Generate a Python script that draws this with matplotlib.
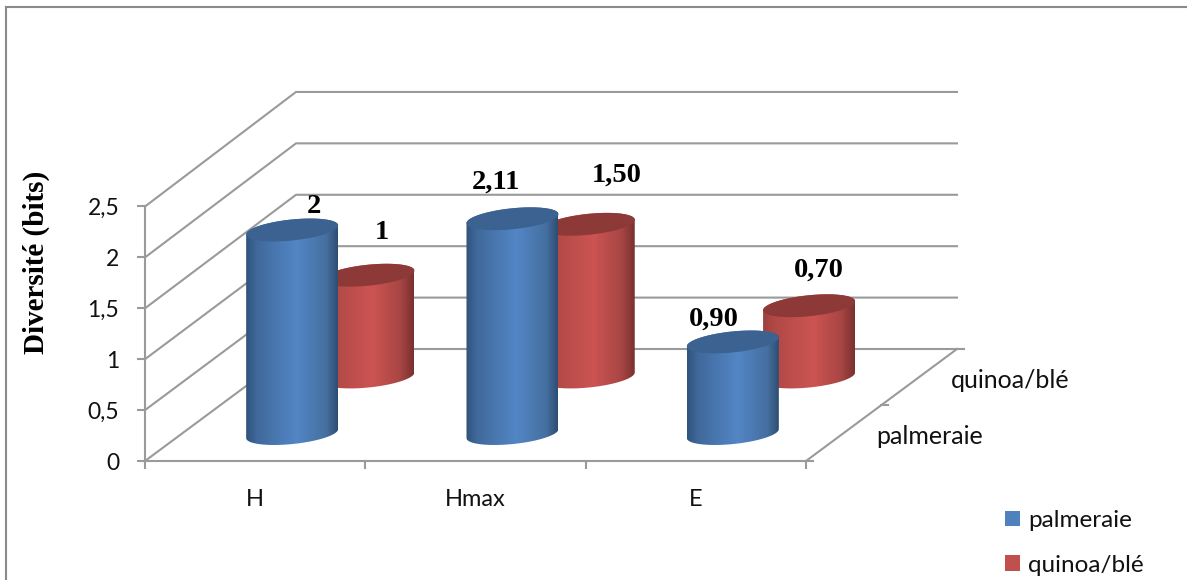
import numpy as np
import matplotlib
matplotlib.use("Agg")
import matplotlib.pyplot as plt
from matplotlib.colors import LinearSegmentedColormap
from matplotlib.lines import Line2D
from matplotlib.patches import Patch, Polygon
from matplotlib.path import Path

# Diversity indices per site
categories = ["H", "Hmax", "E"]
palmeraie = [2, 2.11, 0.90]
quinoa_ble = [1, 1.50, 0.70]
palmeraie_labels = ["2", "2,11", "0,90"]
quinoa_ble_labels = ["1", "1,50", "0,70"]
series_names = ["palmeraie", "quinoa/blé"]
value_ticks = [0, 0.5, 1, 1.5, 2, 2.5]
value_tick_labels = ["0", "0,5", "1", "1,5", "2", "2,5"]

W, H = 1187, 580
LEFT, RIGHT, FLOOR, TOP = 145, 806, 461, 206.5
DEPTH_DX, DEPTH_DY = 151, 112
GRID = "#9a9a9a"
LABEL_FONT = "Lato"
VALUE_FONT = "Liberation Serif"

fig = plt.figure(figsize=(W / 100, H / 100), dpi=100)
ax = fig.add_axes([LEFT / W, 1 - FLOOR / H, (RIGHT - LEFT) / W, (FLOOR - TOP) / H])
ax.set_xlim(0, 3)
ax.set_ylim(0, 2.5)
ax.patch.set_visible(False)
x_px = (RIGHT - LEFT) / 3
y_px = (FLOOR - TOP) / 2.5


def project(x, v, depth):
    """Oblique projection of (category, value, depth) onto the front plane."""
    return (x + depth * DEPTH_DX / x_px,
            v * (1 + 0.01 * depth) + depth * DEPTH_DY / y_px)


# Walls and floor
for v in value_ticks:
    pts = [project(0, v, 0), project(0, v, 1), project(3, v, 1)]
    ax.plot(*zip(*pts), color=GRID, lw=1.5, clip_on=False, zorder=1,
            solid_joinstyle="miter")
ax.plot(*zip(project(3, 0, 0), project(3, 0, 1)), color=GRID, lw=1.5,
        clip_on=False, zorder=1)
for d in (0, 0.5, 1):
    ax.plot(*zip(project(3, 0, d), project(3 + 7 / x_px, 0, d)), color=GRID,
            lw=1.5, clip_on=False, zorder=1)

for side in ("top", "right"):
    ax.spines[side].set_visible(False)
for side in ("left", "bottom"):
    ax.spines[side].set_color(GRID)
    ax.spines[side].set_linewidth(1.5)

ax.set_yticks(value_ticks, value_tick_labels, fontfamily=LABEL_FONT, fontsize=16.5,
              va="center_baseline")
ax.set_xticks([0, 1, 2, 3], [])
ax.set_xticks([0.5, 1.5, 2.5], categories, minor=True, fontfamily=LABEL_FONT,
              fontsize=17)
ax.tick_params(axis="y", length=5.5, width=1.5, color=GRID, pad=13, labelcolor="#111111")
ax.tick_params(axis="x", which="major", length=5.5, width=1.5, color=GRID)
ax.tick_params(axis="x", which="minor", length=0, pad=20, labelcolor="#111111")
ax.set_ylabel("Diversité (bits)", fontfamily=VALUE_FONT, fontweight="bold",
              fontsize=21, color="black", va="center")
ax.yaxis.set_label_coords((36 - LEFT) / (RIGHT - LEFT), (FLOOR - 262) / (FLOOR - TOP))

# Shading of the cylinders
blue_cmap = LinearSegmentedColormap.from_list(
    "blue_body", [(0, "#30537b"), (0.12, "#40699b"), (0.55, "#5386c6"),
                  (0.88, "#446f9f"), (1, "#2e4d72")])
red_cmap = LinearSegmentedColormap.from_list(
    "red_body", [(0, "#9c403e"), (0.12, "#b04946"), (0.55, "#cc5452"),
                 (0.85, "#a84644"), (1, "#7a302f")])

RADIUS_X, RADIUS_Y, TILT = 46 / x_px, 10.5 / y_px, 4.5 / y_px


def ellipse(cx, cy, t):
    return np.column_stack([cx + RADIUS_X * np.cos(t),
                            cy + TILT * np.cos(t) + RADIUS_Y * np.sin(t)])


def draw_cylinder(cat, value, depth, cmap, top_color, zorder):
    cx, base = project(cat + 0.5, 0, depth)
    top = base + value
    lower = ellipse(cx, base, np.linspace(np.pi, 2 * np.pi, 60))
    upper = ellipse(cx, top, np.linspace(0, np.pi, 60))
    body = np.vstack([lower, upper, lower[:1]])
    im = ax.imshow(np.linspace(0, 1, 256)[None, :], cmap=cmap, aspect="auto",
                   extent=(cx - RADIUS_X, cx + RADIUS_X, base - 0.3, top + 0.3),
                   interpolation="bilinear", zorder=zorder)
    im.set_clip_path(Path(body), ax.transData)
    im.set_clip_box(fig.bbox)
    ax.add_patch(Polygon(ellipse(cx, top, np.linspace(0, 2 * np.pi, 120)),
                         closed=True, facecolor=top_color, edgecolor="none",
                         clip_on=False, zorder=zorder + 0.1))
    return cx, top


tops = {}
for i in range(len(categories)):
    tops["q", i] = draw_cylinder(i, quinoa_ble[i], 0.75, red_cmap, "#8d3938", 3 + i)
    tops["p", i] = draw_cylinder(i, palmeraie[i], 0.245, blue_cmap, "#3b6290", 3.5 + i)
ax.set_xlim(0, 3)
ax.set_ylim(0, 2.5)

# Value labels, placed by hand relative to each cylinder top
p_offsets = [(22, 23), (-17, 37), (-19, 23)]
q_offsets = [(13, 43), (28, 49), (10, 36)]
for i in range(len(categories)):
    for key, labels, offsets in (("p", palmeraie_labels, p_offsets),
                                 ("q", quinoa_ble_labels, q_offsets)):
        ax.annotate(labels[i], xy=tops[key, i], xytext=offsets[i],
                    textcoords="offset pixels", ha="center", va="center",
                    fontfamily=VALUE_FONT, fontweight="bold", fontsize=20.5,
                    color="black", zorder=20, annotation_clip=False)

# Depth axis labels
for name, d in zip(series_names, (0.25, 0.75)):
    ax.annotate(name, xy=project(3, 0, d), xytext=(32, -4),
                textcoords="offset pixels", ha="left", va="center",
                fontfamily=LABEL_FONT, fontsize=18, color="#111111",
                annotation_clip=False)

# Legend
handles = [Patch(facecolor="#4f81bd", edgecolor="none"),
           Patch(facecolor="#c0504d", edgecolor="none")]
fig.legend(handles, series_names, loc="upper left",
           bbox_to_anchor=(1003 / W, 1 - 508 / H), frameon=False, ncol=1,
           prop={"family": LABEL_FONT, "size": 17.5}, labelcolor="#111111",
           handlelength=0.58, handleheight=0.58, handletextpad=0.36,
           labelspacing=0.95, borderpad=0.1, borderaxespad=0)

# Chart area border
fig.add_artist(Line2D([6 / W, 6 / W], [0, 1 - 7 / H], color="#8a8a8a", lw=1.5))
fig.add_artist(Line2D([6 / W, 1], [1 - 7 / H, 1 - 7 / H], color="#8a8a8a", lw=1.5))

fig.savefig("out.png", dpi=100)
